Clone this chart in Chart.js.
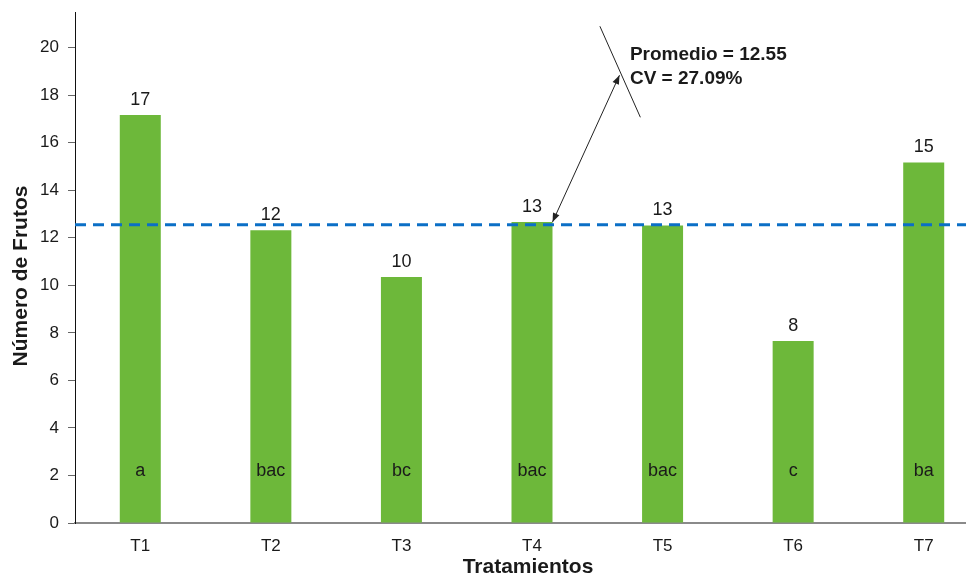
<!DOCTYPE html>
<html>
<head>
<meta charset="utf-8">
<script src="https://cdn.jsdelivr.net/npm/chart.js@4"></script>
<style>
  html, body { margin: 0; padding: 0; background: #fff; overflow: hidden; width: 966px; height: 576px; }
  #wrap { width: 990px; height: 576px; }
</style>
</head>
<body>
<div id="wrap"><canvas id="c" width="990" height="576"></canvas></div>
<script>
// Número de frutos por tratamiento
const tratamientos = ['T1', 'T2', 'T3', 'T4', 'T5', 'T6', 'T7'];
const frutos = [17.17, 12.32, 10.35, 12.66, 12.52, 7.66, 15.17];
const grupos = ['a', 'bac', 'bc', 'bac', 'bac', 'c', 'ba'];
const promedio = 12.55;
const cv = 27.09;
const yTicks = [0, 2, 4, 6, 8, 10, 12, 14, 16, 18, 20];
const yMax = 21.5;

const FONT = '"Liberation Sans", Arial, Helvetica, sans-serif';
const TEXT = '#1a1a1a';

// callout placement in scale units (category index, value)
const callout = {
  textAt: { x: 3.75, y1: 19.72, y2: 18.71 },
  arrowTop: { x: 3.67, y: 18.84 },
  slash: { x1: 3.52, y1: 20.9, x2: 3.83, y2: 17.07 },
  groupsAt: 2.2
};

function arrowHead(ctx, fx, fy, tx, ty, len, half) {
  const a = Math.atan2(ty - fy, tx - fx);
  ctx.beginPath();
  ctx.moveTo(tx, ty);
  ctx.lineTo(tx - len * Math.cos(a) + half * Math.sin(a), ty - len * Math.sin(a) - half * Math.cos(a));
  ctx.lineTo(tx - len * Math.cos(a) - half * Math.sin(a), ty - len * Math.sin(a) + half * Math.cos(a));
  ctx.closePath();
  ctx.fill();
}

const overlay = {
  id: 'overlay',
  afterDatasetsDraw(chart) {
    const { ctx, chartArea, scales: { x, y } } = chart;
    const bars = chart.getDatasetMeta(0).data;
    ctx.save();

    // mean line
    const ym = y.getPixelForValue(promedio);
    ctx.strokeStyle = '#0b6fc6';
    ctx.lineWidth = 3;
    ctx.setLineDash([11, 7]);
    ctx.beginPath();
    ctx.moveTo(chartArea.left, ym);
    ctx.lineTo(chartArea.right, ym);
    ctx.stroke();
    ctx.setLineDash([]);

    // values above bars and group letters inside
    ctx.fillStyle = TEXT;
    ctx.textAlign = 'center';
    bars.forEach((b, i) => {
      ctx.font = '18px ' + FONT;
      ctx.textBaseline = 'alphabetic';
      ctx.fillText(String(Math.round(frutos[i])), b.x, b.y - 10);
      ctx.textBaseline = 'middle';
      ctx.fillText(grupos[i], b.x, y.getPixelForValue(callout.groupsAt));
    });

    // callout arrow from the T4 bar to the summary text
    const b4 = bars[3];
    const p0 = { x: b4.x + b4.width / 2, y: b4.y };
    const p1 = { x: x.getPixelForValue(callout.arrowTop.x), y: y.getPixelForValue(callout.arrowTop.y) };
    ctx.strokeStyle = '#222';
    ctx.fillStyle = '#222';
    ctx.lineWidth = 1;
    ctx.beginPath();
    ctx.moveTo(p0.x, p0.y);
    ctx.lineTo(p1.x, p1.y);
    ctx.stroke();
    arrowHead(ctx, p1.x, p1.y, p0.x, p0.y, 9, 3.5);
    arrowHead(ctx, p0.x, p0.y, p1.x, p1.y, 9, 3.5);

    ctx.beginPath();
    ctx.moveTo(x.getPixelForValue(callout.slash.x1), y.getPixelForValue(callout.slash.y1));
    ctx.lineTo(x.getPixelForValue(callout.slash.x2), y.getPixelForValue(callout.slash.y2));
    ctx.stroke();

    ctx.fillStyle = TEXT;
    ctx.font = 'bold 19px ' + FONT;
    ctx.textAlign = 'left';
    ctx.textBaseline = 'middle';
    const tx = x.getPixelForValue(callout.textAt.x);
    ctx.fillText('Promedio = ' + promedio.toFixed(2), tx, y.getPixelForValue(callout.textAt.y1));
    ctx.fillText('CV = ' + cv.toFixed(2) + '%', tx, y.getPixelForValue(callout.textAt.y2));

    // axis titles
    ctx.font = 'bold 21px ' + FONT;
    ctx.textAlign = 'center';
    ctx.fillText('Tratamientos', 528, 567);
    ctx.save();
    ctx.translate(21, 276);
    ctx.rotate(-Math.PI / 2);
    ctx.fillText('Número de Frutos', 0, 0);
    ctx.restore();

    ctx.restore();
  }
};

new Chart(document.getElementById('c'), {
  type: 'bar',
  data: {
    labels: tratamientos,
    datasets: [{
      data: frutos,
      backgroundColor: '#6db83a',
      borderWidth: 0,
      barPercentage: 0.314,
      categoryPercentage: 1
    }]
  },
  options: {
    responsive: false,
    animation: false,
    devicePixelRatio: 1,
    layout: { padding: { top: 12, right: 1, left: 0, bottom: 0 } },
    plugins: { legend: { display: false }, tooltip: { enabled: false } },
    scales: {
      x: {
        offset: true,
        grid: { display: false, drawTicks: false },
        border: { display: true, color: '#8a8a8a', width: 2 },
        ticks: { color: TEXT, font: { family: FONT, size: 17 }, padding: 13 },
        afterFit(s) { s.height = 53; s.paddingLeft = 0; s.paddingRight = 0; }
      },
      y: {
        min: 0,
        max: yMax,
        afterBuildTicks(s) { s.ticks = yTicks.map(v => ({ value: v })); },
        grid: { drawOnChartArea: false, drawTicks: true, tickLength: 7, color: '#666' },
        border: { display: true, color: '#111', width: 1 },
        ticks: { color: TEXT, font: { family: FONT, size: 17 }, padding: 9 },
        afterFit(s) { s.width = 75; s.paddingTop = 0; s.paddingBottom = 0; }
      }
    }
  },
  plugins: [overlay]
});
</script>
</body>
</html>
